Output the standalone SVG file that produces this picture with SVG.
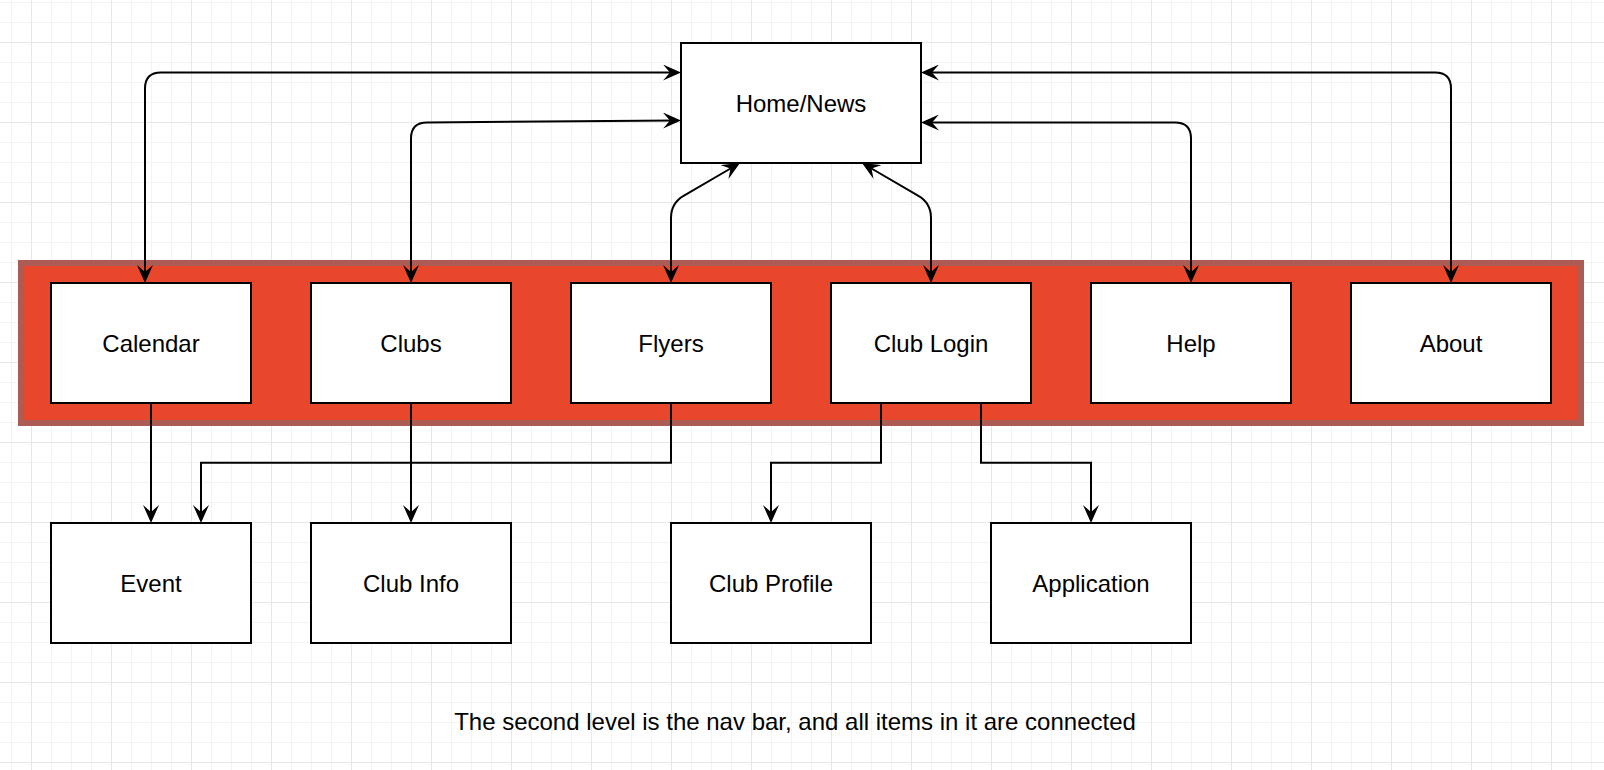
<svg xmlns="http://www.w3.org/2000/svg" width="1604" height="770" viewBox="0 0 1604 770">
  <style>
    .box { fill: #ffffff; stroke: #000000; stroke-width: 2; }
    .lbl { font-family: "Liberation Sans", Arial, Helvetica, sans-serif; font-size: 24px; fill: #000000; text-anchor: middle; }
    .edge { fill: none; stroke: #000000; stroke-width: 2; }
    .bi { marker-start: url(#arr); marker-end: url(#arr); }
    .uni { marker-end: url(#arr); }
  </style>
  <defs>
    <pattern id="grid" patternUnits="userSpaceOnUse" x="31" y="42" width="80" height="80">
      <rect x="20" y="0" width="1" height="80" fill="#f3f3f3"/>
      <rect x="40" y="0" width="1" height="80" fill="#f3f3f3"/>
      <rect x="60" y="0" width="1" height="80" fill="#f3f3f3"/>
      <rect x="0" y="20" width="80" height="1" fill="#f3f3f3"/>
      <rect x="0" y="40" width="80" height="1" fill="#f3f3f3"/>
      <rect x="0" y="60" width="80" height="1" fill="#f3f3f3"/>
      <rect x="0" y="0" width="1" height="80" fill="#e7e7e7"/>
      <rect x="0" y="0" width="80" height="1" fill="#e7e7e7"/>
    </pattern>
    <marker id="arr" markerUnits="userSpaceOnUse" viewBox="0 0 18 16" refX="12" refY="8" markerWidth="18" markerHeight="16" orient="auto-start-reverse">
      <path d="M18,8 L0,0 L7,8 L0,16 Z" fill="#000000"/>
    </marker>
  </defs>

  <rect x="0" y="0" width="1604" height="770" fill="#ffffff"/>
  <rect x="0" y="0" width="1604" height="770" fill="url(#grid)"/>

  <g id="navbar">
    <rect x="21" y="263" width="1560" height="160" fill="#E8472B" stroke="#AD5C55" stroke-width="6"/>
  </g>

  <g id="connectors">
    <path class="edge bi" d="M145,277 L145,88.5 Q145,72.5 161,72.5 L675,72.5"/>
    <path class="edge bi" d="M411,277 L411,138.5 Q411,122.5 427,122.5 L675,120.5"/>
    <path class="edge bi" d="M671,277 L671,218 Q671,203 684,195.7 L734.8,166"/>
    <path class="edge bi" d="M931,277 L931,218 Q931,203 918,195.7 L867.2,166"/>
    <path class="edge bi" d="M1191,277 L1191,138.5 Q1191,122.5 1175,122.5 L927,122.5"/>
    <path class="edge bi" d="M1451,277 L1451,88.5 Q1451,72.5 1435,72.5 L927,72.5"/>
    <path class="edge uni" d="M151,403 L151,517"/>
    <path class="edge uni" d="M671,403 L671,462.7 L201,462.7 L201,517"/>
    <path class="edge uni" d="M411,403 L411,517"/>
    <path class="edge uni" d="M881,403 L881,462.7 L771,462.7 L771,517"/>
    <path class="edge uni" d="M981,403 L981,462.7 L1091,462.7 L1091,517"/>
  </g>

  <g id="home">
    <rect class="box" x="681" y="43" width="240" height="120"/>
    <text class="lbl" x="801" y="111.6">Home/News</text>
  </g>
  <g id="calendar">
    <rect class="box" x="51" y="283" width="200" height="120"/>
    <text class="lbl" x="151" y="351.6">Calendar</text>
  </g>
  <g id="clubs">
    <rect class="box" x="311" y="283" width="200" height="120"/>
    <text class="lbl" x="411" y="351.6">Clubs</text>
  </g>
  <g id="flyers">
    <rect class="box" x="571" y="283" width="200" height="120"/>
    <text class="lbl" x="671" y="351.6">Flyers</text>
  </g>
  <g id="club-login">
    <rect class="box" x="831" y="283" width="200" height="120"/>
    <text class="lbl" x="931" y="351.6">Club Login</text>
  </g>
  <g id="help">
    <rect class="box" x="1091" y="283" width="200" height="120"/>
    <text class="lbl" x="1191" y="351.6">Help</text>
  </g>
  <g id="about">
    <rect class="box" x="1351" y="283" width="200" height="120"/>
    <text class="lbl" x="1451" y="351.6">About</text>
  </g>
  <g id="event">
    <rect class="box" x="51" y="523" width="200" height="120"/>
    <text class="lbl" x="151" y="591.6">Event</text>
  </g>
  <g id="club-info">
    <rect class="box" x="311" y="523" width="200" height="120"/>
    <text class="lbl" x="411" y="591.6">Club Info</text>
  </g>
  <g id="club-profile">
    <rect class="box" x="671" y="523" width="200" height="120"/>
    <text class="lbl" x="771" y="591.6">Club Profile</text>
  </g>
  <g id="application">
    <rect class="box" x="991" y="523" width="200" height="120"/>
    <text class="lbl" x="1091" y="591.6">Application</text>
  </g>

  <g id="note">
    <text class="lbl" x="795" y="730">The second level is the nav bar, and all items in it are connected</text>
  </g>
</svg>
